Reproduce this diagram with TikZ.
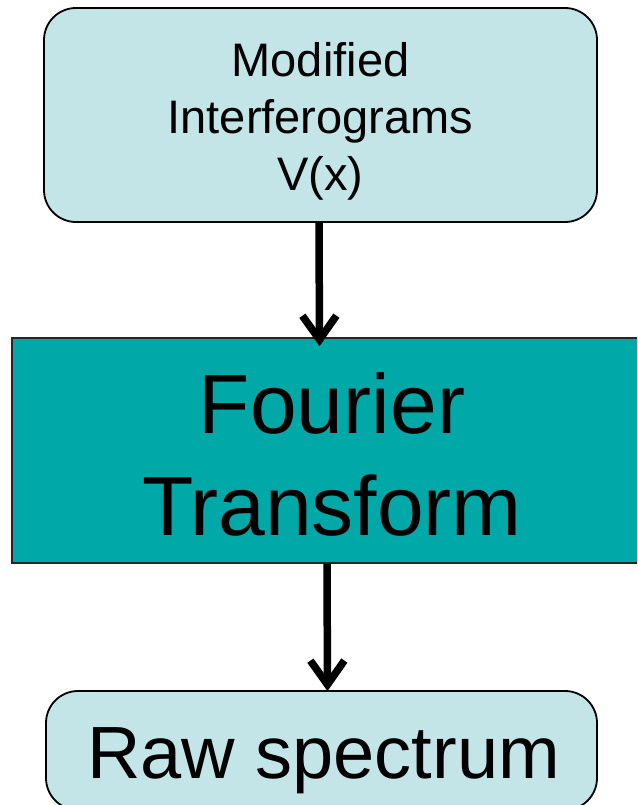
\documentclass[tikz,border=0pt]{standalone}
\usepackage{fontspec}
\setmainfont{Liberation Sans}
\usetikzlibrary{arrows.meta}

\definecolor{paleteal}{HTML}{C4E5E8}
\definecolor{deepteal}{HTML}{00A8A8}

\tikzset{
  softbox/.style={draw=black, line width=1.8pt, fill=paleteal,
    rounded corners=32pt, inner sep=0pt, align=center},
  mainbox/.style={draw=black!85, line width=1.6pt, fill=deepteal,
    inner sep=0pt, align=center},
  flow/.style={line width=7.5pt, draw=black,
    -{Straight Barb[length=24pt,width=34pt]}}
}

\begin{document}
\begin{tikzpicture}[x=1pt, y=-1pt]
  \useasboundingbox (0,0) rectangle (637,805);
  \clip (0,0) rectangle (637,805);

  % input box (text box baseline sits on the last line)
  \node[softbox, minimum width=553pt, minimum height=214pt,
        text height=150pt, text depth=0pt,
        font=\fontsize{47}{56.5}\selectfont] (top) at (320.5,115)
        {Modified\\Interferograms\\V(x)};

  % transform block, running past the right edge
  \node[mainbox, minimum width=640pt, minimum height=225pt,
        text height=169pt, text depth=0pt,
        font=\fontsize{84}{102}\selectfont] (mid) at (332,450.5)
        {Fourier\\Transform};

  % output box, cut off at the bottom edge
  \node[softbox, minimum width=551pt, minimum height=119pt,
        text height=55pt, text depth=0pt,
        font=\fontsize{74}{90}\selectfont] (bot) at (321.5,750.5)
        {\hspace*{4pt}Raw spectrum};

  % connectors
  \draw[flow] ([xshift=-1.5pt]top.south) -- ([xshift=-12.5pt,yshift=-9pt]mid.north);
  \draw[flow] ([xshift=-5pt]mid.south) -- ([xshift=6pt,yshift=-1pt]bot.north);
\end{tikzpicture}
\end{document}
